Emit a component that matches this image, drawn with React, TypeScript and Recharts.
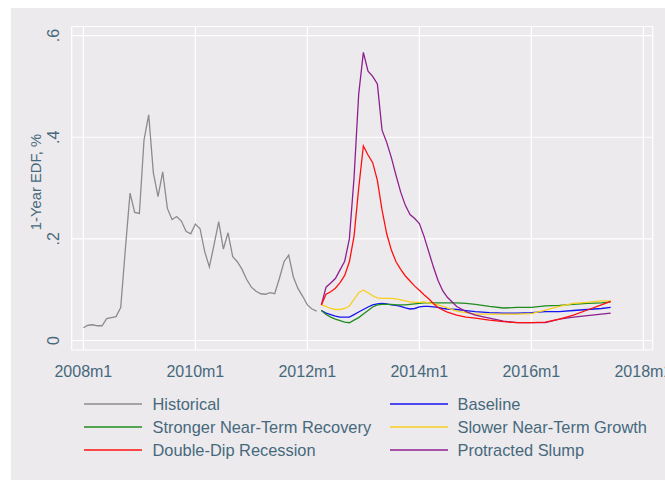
import React from 'react';
import { LineChart, Line, XAxis, YAxis, CartesianGrid, Legend } from 'recharts';

// months counted from 2008m1 (= 0)
const historicalMonths = Array.from({ length: 51 }, (_, i) => i);
const historicalValues = [
  0.025, 0.030, 0.031, 0.029, 0.029, 0.043, 0.045, 0.047, 0.065, 0.180,
  0.290, 0.252, 0.250, 0.395, 0.444, 0.330, 0.283, 0.332, 0.260, 0.238,
  0.244, 0.235, 0.215, 0.210, 0.229, 0.220, 0.175, 0.145, 0.188, 0.234,
  0.180, 0.212, 0.165, 0.155, 0.140, 0.120, 0.105, 0.097, 0.092, 0.091,
  0.094, 0.092, 0.122, 0.155, 0.168, 0.125, 0.102, 0.087, 0.070, 0.062,
  0.058,
];

const forecastMonths = [
  51, 52, 53, 54, 55, 56, 57, 58, 59, 60, 61, 62, 63, 64, 65, 66, 67, 68, 69, 70,
  71, 72, 73, 74, 75, 76, 77, 78, 80, 82, 84, 87, 90, 93, 96, 99, 102, 105, 108, 111, 113,
];
const baselineValues = [
  0.059, 0.054, 0.051, 0.048, 0.046, 0.046, 0.046, 0.051, 0.056, 0.061, 0.066, 0.070, 0.072, 0.073, 0.072, 0.070, 0.069, 0.067, 0.064, 0.062,
  0.063, 0.066, 0.067, 0.067, 0.066, 0.065, 0.063, 0.062, 0.061, 0.059, 0.057, 0.055, 0.054, 0.054, 0.055, 0.057, 0.057, 0.059, 0.061, 0.063, 0.065,
];
const strongerValues = [
  0.059, 0.051, 0.046, 0.042, 0.039, 0.036, 0.035, 0.040, 0.045, 0.052, 0.059, 0.066, 0.070, 0.071, 0.071, 0.071, 0.070, 0.070, 0.070, 0.071,
  0.072, 0.073, 0.074, 0.074, 0.074, 0.074, 0.074, 0.074, 0.074, 0.073, 0.071, 0.067, 0.064, 0.065, 0.065, 0.068, 0.069, 0.071, 0.073, 0.074, 0.076,
];
const slowerValues = [
  0.070, 0.067, 0.063, 0.061, 0.061, 0.063, 0.068, 0.081, 0.094, 0.099, 0.094, 0.088, 0.084, 0.083, 0.083, 0.083, 0.082, 0.080, 0.078, 0.076,
  0.075, 0.075, 0.076, 0.074, 0.072, 0.070, 0.067, 0.064, 0.058, 0.055, 0.052, 0.052, 0.052, 0.052, 0.053, 0.060, 0.067, 0.073, 0.075, 0.078, 0.078,
];
const doubleDipValues = [
  0.070, 0.091, 0.096, 0.103, 0.114, 0.128, 0.155, 0.205, 0.300, 0.383, 0.365, 0.350, 0.315, 0.257, 0.210, 0.178, 0.155, 0.140, 0.127, 0.117,
  0.107, 0.099, 0.090, 0.082, 0.073, 0.065, 0.060, 0.056, 0.050, 0.046, 0.044, 0.040, 0.037, 0.035, 0.035, 0.036, 0.042, 0.050, 0.060, 0.070, 0.077,
];
const slumpValues = [
  0.070, 0.105, 0.113, 0.122, 0.139, 0.156, 0.200, 0.320, 0.485, 0.567, 0.530, 0.520, 0.505, 0.414, 0.390, 0.360, 0.325, 0.292, 0.266, 0.248,
  0.240, 0.230, 0.205, 0.175, 0.145, 0.118, 0.098, 0.085, 0.067, 0.057, 0.050, 0.044, 0.038, 0.035, 0.035, 0.035, 0.042, 0.046, 0.049, 0.052, 0.054,
];

const xTicks = [0, 24, 48, 72, 96, 120];
const xTickLabels = ['2008m1', '2010m1', '2012m1', '2014m1', '2016m1', '2018m1'];
const yTicks = [0, 0.2, 0.4, 0.6];
const yTickLabels = ['0', '.2', '.4', '.6'];
const yTitle = '1-Year EDF, %';

const seriesKeys = ['historical', 'baseline', 'stronger', 'slower', 'doubleDip', 'slump'];
const seriesNames = [
  'Historical',
  'Baseline',
  'Stronger Near-Term Recovery',
  'Slower Near-Term Growth',
  'Double-Dip Recession',
  'Protracted Slump',
];
const seriesColors = ['#8c8c8c', '#1414f0', '#1f8c1f', '#f7cf1e', '#ff1010', '#8e1f8e'];

const forecastSets: Record<string, number[]> = {
  baseline: baselineValues,
  stronger: strongerValues,
  slower: slowerValues,
  doubleDip: doubleDipValues,
  slump: slumpValues,
};

const rowMap = new Map<number, any>();
historicalMonths.forEach((m, i) => rowMap.set(m, { m, historical: historicalValues[i] }));
forecastMonths.forEach((m, i) => {
  const row = rowMap.get(m) ?? { m };
  Object.keys(forecastSets).forEach((k) => {
    row[k] = forecastSets[k][i];
  });
  rowMap.set(m, row);
});
const data = Array.from(rowMap.values()).sort((a, b) => a.m - b.m);

const FONT = '"Liberation Sans", Arial, Helvetica, sans-serif';
const TEXT = '#45697c';
const BG = '#edeaed';

const XTick = (props: any) => {
  const { x, payload } = props;
  const idx = xTicks.indexOf(payload.value);
  return (
    <text x={x} y={377} textAnchor="middle" fill={TEXT} fontSize={16} fontFamily={FONT}>
      {xTickLabels[idx]}
    </text>
  );
};

const YTick = (props: any) => {
  const { y, payload } = props;
  const idx = yTicks.indexOf(payload.value);
  const cx = 59.5;
  return (
    <text
      x={cx}
      y={y}
      transform={`rotate(-90 ${cx} ${y})`}
      textAnchor="middle"
      fill={TEXT}
      fontSize={16}
      fontFamily={FONT}
    >
      {yTickLabels[idx]}
    </text>
  );
};

const YTitle = () => {
  const cx = 40.5;
  const cy = 182;
  return (
    <text
      x={cx}
      y={cy}
      transform={`rotate(-90 ${cx} ${cy})`}
      textAnchor="middle"
      fill={TEXT}
      fontSize={14.8}
      fontFamily={FONT}
    >
      {yTitle}
    </text>
  );
};

const legendCols = [
  { x1: 84, x2: 142, tx: 152.5 },
  { x1: 390, x2: 448, tx: 457.5 },
];
const legendRowY = [19, 42, 65];

const LegendContent = () => (
  <svg width={665} height={80} style={{ display: 'block' }}>
    {seriesNames.map((name, i) => {
      const col = legendCols[i % 2];
      const y = legendRowY[Math.floor(i / 2)];
      return (
        <g key={name}>
          <line x1={col.x1} x2={col.x2} y1={y} y2={y} stroke={seriesColors[i]} strokeWidth={1.4} />
          <text x={col.tx} y={y + 5.8} fill={TEXT} fontSize={16.4} fontFamily={FONT}>
            {name}
          </text>
        </g>
      );
    })}
  </svg>
);

const drawOrder = [0, 1, 2, 3, 5, 4];

export default function App() {
  return (
    <div style={{ position: 'absolute', left: 0, top: 0, width: 665, height: 480 }}>
      <div style={{ position: 'absolute', left: 11, top: 8, width: 654, height: 472, background: BG }} />
      <div style={{ position: 'absolute', left: 0, top: 0 }}>
        <LineChart width={665} height={480} data={data} margin={{ top: 26.5, right: 12.3, bottom: 100, left: 11.7 }}>
          <CartesianGrid stroke="#ffffff" strokeWidth={1.2} />
          <XAxis
            dataKey="m"
            type="number"
            domain={[-2.5, 122]}
            ticks={xTicks}
            allowDataOverflow
            axisLine={false}
            tickLine={false}
            height={30}
            tick={<XTick />}
            interval={0}
          />
          <YAxis
            type="number"
            domain={[-0.0187, 0.618]}
            ticks={yTicks}
            allowDataOverflow
            axisLine={false}
            tickLine={false}
            width={60}
            tick={<YTick />}
            interval={0}
            label={<YTitle />}
          />
          <Legend
            layout="horizontal"
            verticalAlign="middle"
            align="center"
            wrapperStyle={{ position: 'absolute', left: 0, top: 385, width: 665, height: 80 }}
            content={<LegendContent />}
          />
          {drawOrder.map((i) => (
            <Line
              key={seriesKeys[i]}
              dataKey={seriesKeys[i]}
              name={seriesNames[i]}
              stroke={seriesColors[i]}
              strokeWidth={1.3}
              dot={false}
              activeDot={false}
              type="linear"
              isAnimationActive={false}
              connectNulls={false}
            />
          ))}
        </LineChart>
      </div>
    </div>
  );
}
